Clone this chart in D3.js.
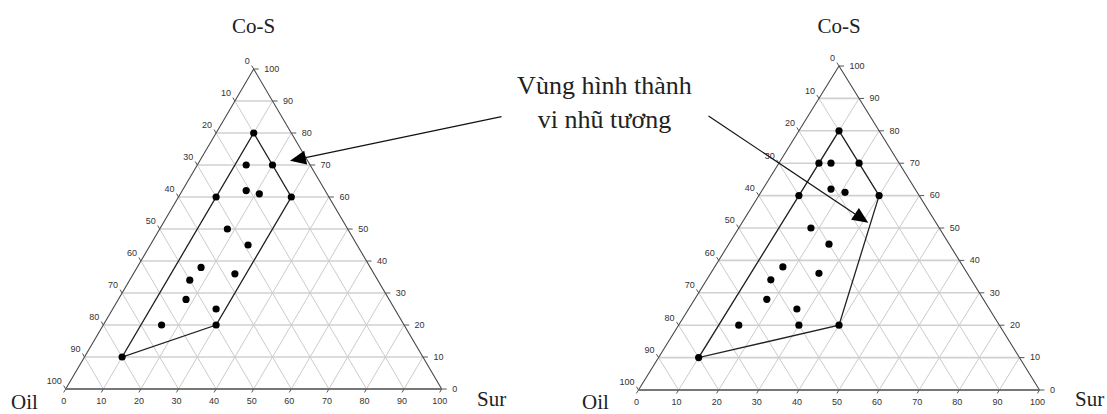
<!DOCTYPE html>
<html>
<head>
<meta charset="utf-8">
<script src="https://cdn.jsdelivr.net/npm/d3@7"></script>
<style>
  body { margin: 0; background: #fff; }
  svg { display: block; }
</style>
</head>
<body>
<svg id="chart" width="1107" height="414"></svg>
<script>
// Compositions as [Sur %, Co-S %]; Oil % is the remainder to 100.
const ticks = d3.range(0, 101, 10);
const gridValues = d3.range(10, 100, 10);

const leftPoints = [
  [10, 80], [13, 70], [20, 70], [17, 62], [21, 61], [10, 60], [30, 60],
  [18, 50], [26, 45], [17, 38], [16, 34], [27, 36], [18, 28], [27.5, 25],
  [15.5, 20], [30, 20], [10, 10]
];
const leftRegion = [[10, 80], [30, 60], [30, 20], [10, 10]];

const rightPoints = [
  [10, 80], [10, 70], [13, 70], [20, 70], [17, 62], [21, 61], [10, 60], [30, 60],
  [18, 50], [25, 45], [17, 38], [16, 34], [27, 36], [18, 28], [27, 25],
  [15, 20], [30, 20], [40, 20], [10, 10]
];
const rightRegion = [[10, 80], [30, 60], [40, 20], [10, 10]];

const titleTop = "Co-S";
const titleLeft = "Oil";
const titleRight = "Sur";
const noteLines = ["Vùng hình thành", "vi nhũ tương"];
// arrow tips, in each diagram's own [Sur, Co-S] coordinates
const leftArrowTip = [24, 71.3];
const rightArrowTip = [31.5, 51.6];

const svg = d3.select("#chart");
const serif = "'Liberation Serif', 'Times New Roman', serif";
const sans = "'Liberation Sans', Arial, sans-serif";

function ternary(frame) {
  const sx = d3.scaleLinear().domain([0, 100]).range([frame.x0, frame.x1]);
  const sy = d3.scaleLinear().domain([0, 100]).range([frame.y0, frame.y1]);
  return ([s, c]) => [sx(s + c / 2), sy(c)];
}

function drawDiagram(frame, points, region, labels) {
  const P = ternary(frame);
  const g = svg.append("g");
  const W = frame.x1 - frame.x0, H = frame.y0 - frame.y1;
  const line = d3.line();

  // grid: constant Co-S (horizontal), constant Sur, constant Oil
  const gh = g.append("g").attr("stroke", "#d0d0d0").attr("stroke-width", 1.6).attr("fill", "none");
  gridValues.forEach(v => {
    gh.append("path").attr("d", line([P([0, v]), P([100 - v, v])]));
  });
  const gs = g.append("g").attr("stroke", "#cbcbcb").attr("stroke-width", 1).attr("fill", "none");
  gridValues.forEach(v => {
    gs.append("path").attr("d", line([P([v, 0]), P([v, 100 - v])]));
    gs.append("path").attr("d", line([P([0, 100 - v]), P([100 - v, 0])]));
  });

  // triangle frame
  g.append("path").attr("d", line([P([0, 0]), P([0, 100]), P([100, 0])]))
    .attr("fill", "none").attr("stroke", "#474747").attr("stroke-width", 1.1);
  g.append("path").attr("d", line([P([0, 0]), P([100, 0])]))
    .attr("fill", "none").attr("stroke", "#777").attr("stroke-width", 2);

  // ticks and tick labels
  const lenB = Math.hypot(W / 2, H), tickLen = 4;
  const dB = [-(W / 2) / lenB * tickLen, H / lenB * tickLen];
  const dL = [-(W / 2) / lenB * tickLen, -H / lenB * tickLen];
  const tg = g.append("g").attr("stroke", "#555").attr("stroke-width", 1);
  const lg = g.append("g").attr("font-family", sans).attr("font-size", 9).attr("fill", "#333");
  ticks.forEach(v => {
    // bottom: Sur
    const b = P([v, 0]);
    tg.append("path").attr("d", line([b, [b[0] + dB[0], b[1] + dB[1]]]));
    lg.append("text").attr("x", b[0] - 2).attr("y", b[1] + 13)
      .attr("text-anchor", "middle").attr("dominant-baseline", "middle").text(v);
    // right: Co-S
    const r = P([100 - v, v]);
    tg.append("path").attr("d", line([r, [r[0] + 5, r[1]]]));
    lg.append("text").attr("x", r[0] + 10.5).attr("y", r[1] + 0.5)
      .attr("dominant-baseline", "middle").text(v);
    // left: Oil
    const l = P([0, 100 - v]);
    tg.append("path").attr("d", line([l, [l[0] + dL[0], l[1] + dL[1]]]));
    lg.append("text").attr("x", l[0] - 4).attr("y", l[1] - 7)
      .attr("text-anchor", "end").attr("dominant-baseline", "middle").text(v);
  });

  // microemulsion region outline
  g.append("path").attr("d", line(region.map(P)) + "Z")
    .attr("fill", "none").attr("stroke", "#222").attr("stroke-width", 1.3);

  // experimental points
  g.append("g").selectAll("circle").data(points).join("circle")
    .attr("cx", d => P(d)[0]).attr("cy", d => P(d)[1])
    .attr("r", 3.6).attr("fill", "#000");

  // corner titles
  const apex = P([0, 100]);
  g.append("text").attr("x", apex[0]).attr("y", labels.topY)
    .attr("text-anchor", "middle").attr("font-family", serif).attr("font-size", 21)
    .attr("fill", "#222").text(titleTop);
  g.append("text").attr("x", labels.oilX).attr("y", labels.oilY)
    .attr("font-family", serif).attr("font-size", 21).attr("fill", "#222").text(titleLeft);
  g.append("text").attr("x", labels.surX).attr("y", labels.surY)
    .attr("font-family", serif).attr("font-size", 21).attr("fill", "#222").text(titleRight);

  return P;
}

const leftP = drawDiagram({ x0: 65.7, x1: 441.7, y0: 389, y1: 69 }, leftPoints, leftRegion,
  { topY: 33, oilX: 11, oilY: 409, surX: 477, surY: 406 });
const rightP = drawDiagram({ x0: 638.5, x1: 1039.5, y0: 390, y1: 66 }, rightPoints, rightRegion,
  { topY: 33, oilX: 582, oilY: 409, surX: 1075, surY: 406 });

// annotation text with two arrows
const noteX = 604.5;
const note = svg.append("g").attr("font-family", serif).attr("font-size", 26)
  .attr("fill", "#222").attr("text-anchor", "middle");
note.append("text").attr("x", noteX).attr("y", 94).text(noteLines[0]);
note.append("text").attr("x", noteX).attr("y", 128).text(noteLines[1]);

function arrow(tail, tip) {
  const dx = tip[0] - tail[0], dy = tip[1] - tail[1];
  const len = Math.hypot(dx, dy), ux = dx / len, uy = dy / len;
  const hl = 16, hw = 7;
  const base = [tip[0] - ux * hl, tip[1] - uy * hl];
  svg.append("path").attr("d", d3.line()([tail, base]))
    .attr("stroke", "#111").attr("stroke-width", 1.2).attr("fill", "none");
  svg.append("path")
    .attr("d", d3.line()([tip, [base[0] - uy * hw, base[1] + ux * hw], [base[0] + uy * hw, base[1] - ux * hw]]) + "Z")
    .attr("fill", "#000");
}
arrow([noteX - 103, 116.7], leftP(leftArrowTip));
arrow([noteX + 104, 116], rightP(rightArrowTip));
</script>
</body>
</html>
